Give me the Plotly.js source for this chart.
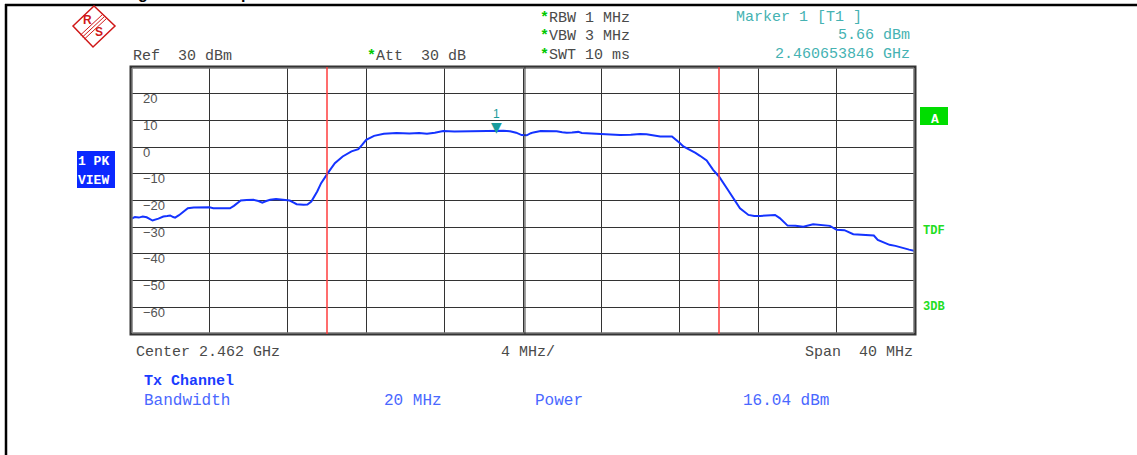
<!DOCTYPE html>
<html>
<head>
<meta charset="utf-8">
<script src="https://cdn.plot.ly/plotly-3.0.1.min.js"></script>
<style>html,body{margin:0;padding:0;background:#fff;}#chart{width:1137px;height:455px;}</style>
</head>
<body>
<div id="chart"></div>
<script>
// ---- data (frequency offset from centre 2.462 GHz, in MHz; level in dBm) ----
const freqOffsetMHz = [-20.0,-19.8,-19.6,-19.4,-19.2,-18.9,-18.6,-18.35,-18.15,-18.0,-17.85,-17.75,-17.55,-17.4,-17.1,-16.8,-16.5,-16.0,-15.8,-15.4,-14.95,-14.75,-14.6,-14.4,-14.1,-13.75,-13.5,-13.3,-13.1,-12.9,-12.6,-12.2,-11.9,-11.7,-11.55,-11.2,-11.0,-10.8,-10.65,-10.5,-10.3,-10.1,-9.96,-9.6,-9.2,-8.75,-8.4,-8.2,-8.0,-7.6,-7.1,-6.45,-5.8,-5.3,-4.9,-4.5,-4.07,-3.5,-3.05,-2.5,-2.0,-1.6,-1.34,-1.0,-0.66,-0.35,-0.07,0.19,0.4,0.53,0.9,1.2,1.72,2.0,2.23,2.5,2.82,3.0,3.25,3.76,4.3,4.95,5.5,5.97,6.3,6.65,7.0,7.6,7.84,8.0,8.18,8.52,8.8,9.03,9.37,9.7,10.0,10.4,10.73,11.07,11.5,11.8,12.1,12.5,12.86,13.1,13.5,13.9,14.3,14.8,15.2,15.66,16.0,16.4,16.85,17.3,17.9,18.1,18.4,18.7,19.0,19.4,19.7,20.0];
const levelDbm = [-26.9,-26.2,-26.4,-26.0,-26.3,-27.5,-26.8,-26.0,-25.8,-25.6,-26.2,-26.4,-25.5,-24.7,-22.9,-22.6,-22.5,-22.5,-22.9,-22.9,-22.9,-22.0,-21.0,-20.0,-19.8,-19.75,-20.2,-20.8,-20.2,-19.75,-19.4,-19.75,-20.0,-20.8,-21.4,-21.6,-21.5,-20.4,-18.5,-16.6,-13.5,-11.2,-9.75,-6.0,-3.5,-1.6,-0.75,0.9,2.7,4.2,5.0,5.25,5.1,5.3,5.0,5.4,6.0,5.8,5.9,5.8,5.9,6.1,6.2,6.1,5.9,5.4,4.5,4.4,5.2,5.5,6.0,6.0,5.9,5.6,5.4,5.5,5.7,5.3,5.2,4.9,4.9,4.5,4.6,4.9,4.8,4.5,4.0,4.0,2.7,1.5,0.24,-1.0,-2.2,-3.25,-5.0,-8.5,-11.0,-15.4,-19.1,-22.9,-25.4,-25.8,-25.8,-25.6,-25.4,-26.6,-29.4,-29.5,-29.8,-28.9,-29.3,-29.5,-31.0,-31.1,-32.6,-32.8,-33.1,-34.75,-35.6,-36.6,-37.0,-37.9,-38.4,-38.9];
const markerFreqOffsetMHz = [-1.346154];   // 2.460653846 GHz
const markerLevelDbm = [5.66];
const channelEdgesMHz = [-10, 10];          // Tx channel bandwidth 20 MHz
const yTickVals = [20,10,0,-10,-20,-30,-40,-50,-60];
const yTickText = ['20','10','0','\u221210','\u221220','\u221230','\u221240','\u221250','\u221260'];

// ---- layout helpers (pixel -> paper) ----
const L=131, R=915, T=67, B=334;
const px = x => (x-L)/(R-L);
const py = y => (B-y)/(B-T);
const MONO = 'Liberation Mono, Courier New, monospace';
const SANS = 'Liberation Sans, Arial, sans-serif';
const NB = '\u00a0';

function txt(text, x, y, opts={}) {
  return Object.assign({
    xref:'paper', yref:'paper', x:px(x), y:py(y), text:text, showarrow:false,
    xanchor:'left', yanchor:'middle',
    font:{family:MONO, size:15, color:'#4a4a4a'}
  }, opts);
}
const star = '<span style="color:#00c800"><b>*</b></span>';
const teal = '#45b2b2', blueB = '#1a3cff', blueL = '#4a68ff', green='#22dd22';

const annotations = [
  // title, cropped at the top edge as in the reference
  txt('<b>Average Power Output</b>', 92, 4, {yanchor:'bottom', font:{family:SANS, size:16, color:'#000'}}),
  txt('Ref'+NB+NB+'30 dBm', 131, 57),
  txt(star+'Att'+NB+NB+'30 dB', 365, 57),
  txt(star+'RBW 1 MHz', 538, 18),
  txt(star+'VBW 3 MHz', 538, 37),
  txt(star+'SWT 10 ms', 538, 56),
  txt('Marker 1 [T1 ]', 734, 17, {font:{family:MONO,size:15,color:teal}}),
  txt('5.66 dBm', 912, 36, {xanchor:'right', font:{family:MONO,size:15,color:teal}}),
  txt('2.460653846 GHz', 912, 54, {xanchor:'right', font:{family:MONO,size:15,color:teal}}),
  txt('Center 2.462 GHz', 134, 352),
  txt('4 MHz/', 499, 352),
  txt('Span'+NB+NB+'40 MHz', 915, 352, {xanchor:'right'}),
  txt('<b>Tx Channel</b>', 142, 381, {font:{family:MONO,size:15,color:blueB}}),
  txt('Bandwidth', 142, 401, {font:{family:MONO,size:16,color:blueL}}),
  txt('20 MHz', 382, 401, {font:{family:MONO,size:16,color:blueL}}),
  txt('Power', 533, 401, {font:{family:MONO,size:16,color:blueL}}),
  txt('16.04 dBm', 741, 401, {font:{family:MONO,size:16,color:blueL}}),
  txt('<b>1 PK</b>', 76, 161, {font:{family:MONO,size:13,color:'#fff'}}),
  txt('<b>VIEW</b>', 76, 180, {font:{family:MONO,size:13,color:'#fff'}}),
  txt('<b>A</b>', 935, 119, {xanchor:'center', font:{family:MONO,size:13,color:'#fff'}}),
  txt('<b>TDF</b>', 921, 231, {font:{family:MONO,size:12,color:green}}),
  txt('<b>3DB</b>', 921, 307, {font:{family:MONO,size:12,color:green}}),
  txt('<b>R</b>', 87, 20, {xanchor:'center', font:{family:SANS,size:12,color:'#d01818'}}),
  txt('<b>S</b>', 99, 32, {xanchor:'center', font:{family:SANS,size:12,color:'#d01818'}}),
  // marker symbol and number
  {x:markerFreqOffsetMHz[0], y:markerLevelDbm[0], xref:'x', yref:'y', text:'\u25BC', showarrow:false,
   yanchor:'bottom', yshift:-5, font:{family:'DejaVu Sans', size:14, color:'#1a9c9c'}},
  {x:markerFreqOffsetMHz[0], y:markerLevelDbm[0], xref:'x', yref:'y', text:'1', showarrow:false,
   yanchor:'bottom', yshift:9, font:{family:SANS, size:12, color:'#1a9c9c'}}
];

function path(points, close) {
  return 'M ' + points.map(p => px(p[0]) + ',' + py(p[1])).join(' L ') + (close?' Z':'');
}
const shapes = [
  // outer frame
  {type:'line', xref:'paper', yref:'paper', x0:px(5), x1:px(1137), y0:py(5), y1:py(5), line:{color:'#000', width:2.5}},
  {type:'line', xref:'paper', yref:'paper', x0:px(6), x1:px(6), y0:py(4), y1:py(455), line:{color:'#000', width:2.5}},
  // plot border (double)
  {type:'rect', xref:'paper', yref:'paper', x0:0, x1:1, y0:0, y1:1, line:{color:'#333', width:3}},
  {type:'rect', xref:'paper', yref:'paper', x0:px(L+1), x1:px(R-1), y0:py(B-1), y1:py(T+1), line:{color:'#999', width:1}},
  // doubled centre line
  {type:'line', xref:'x', yref:'paper', x0:0.1, x1:0.1, y0:0, y1:1, line:{color:'#333', width:1}},
  // channel edge lines
  ...channelEdgesMHz.map(f => ({type:'line', xref:'x', yref:'paper', x0:f, x1:f, y0:0, y1:1, line:{color:'#ff3c3c', width:1.5}})),
  // left view box
  {type:'rect', xref:'paper', yref:'paper', x0:px(77), x1:px(115), y0:py(188), y1:py(151), fillcolor:'#0a28ff', line:{width:0}},
  // right 'A' box
  {type:'rect', xref:'paper', yref:'paper', x0:px(920), x1:px(948), y0:py(125), y1:py(107), fillcolor:'#00dd00', line:{width:0}},
  // R&S logo
  {type:'path', xref:'paper', yref:'paper', path:path([[73,26],[94,6],[115,26],[93,47]], true), line:{color:'#d01818', width:1.5}},
  {type:'path', xref:'paper', yref:'paper', path:path([[102.5,14.5],[80.5,35]]), line:{color:'#d01818', width:1}},
  {type:'path', xref:'paper', yref:'paper', path:path([[104.5,16.5],[82.5,37]]), line:{color:'#d01818', width:1}},
  {type:'path', xref:'paper', yref:'paper', path:path([[106.5,18.5],[84.5,39]]), line:{color:'#d01818', width:1}}
];

const data = [{
  type:'scatter', mode:'lines', x:freqOffsetMHz, y:levelDbm,
  line:{color:'#1433ff', width:2}, hoverinfo:'skip'
}];

const layout = {
  width:1137, height:455,
  margin:{l:L, r:1137-R, t:T, b:455-B, pad:0},
  paper_bgcolor:'#fff', plot_bgcolor:'#fff', showlegend:false,
  xaxis:{range:[-20,20], tick0:-20, dtick:4, showgrid:true, gridcolor:'#333', gridwidth:1,
         showticklabels:false, zeroline:false, showline:false, ticks:'', fixedrange:true},
  yaxis:{range:[-70,30], tickvals:yTickVals, ticktext:yTickText, showgrid:true, gridcolor:'#333', gridwidth:1,
         zeroline:false, showline:false, ticks:'', ticklabelposition:'inside', ticklabelshift:5,
         ticklabelstandoff:9, tickfont:{family:SANS, size:13, color:'#555'}, fixedrange:true},
  annotations:annotations, shapes:shapes
};
Plotly.newPlot('chart', data, layout, {staticPlot:true, displayModeBar:false});
</script>
</body>
</html>
